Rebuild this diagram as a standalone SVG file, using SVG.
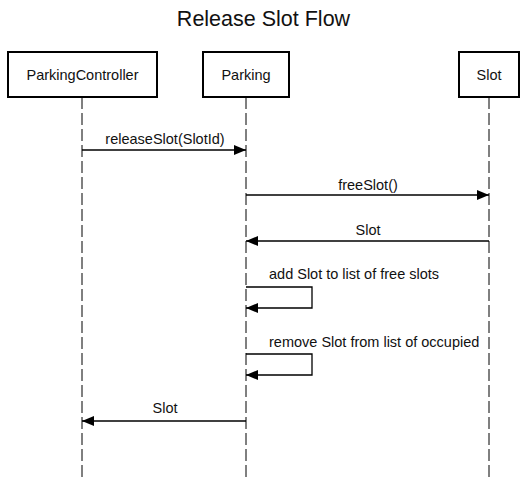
<svg xmlns="http://www.w3.org/2000/svg" width="527" height="478" viewBox="0 0 527 478">
<style>
text{font-family:"Liberation Sans",Arial,sans-serif;fill:#111;text-anchor:middle}
.t{font-size:21.5px}
.l{font-size:14.5px}
.s{text-anchor:start}
.box{fill:#fff;stroke:#000;stroke-width:2}
.life{stroke:#000;stroke-width:1;stroke-dasharray:12 4;fill:none}
.msg{stroke:#000;stroke-width:1.3;fill:none}
</style>
<defs>
<marker id="ah" markerWidth="12" markerHeight="10" refX="12" refY="5" orient="auto" markerUnits="userSpaceOnUse">
<path d="M0,0 L12,5 L0,10 Z" fill="#000"/>
</marker>
</defs>
<rect width="527" height="478" fill="#fff"/>
<text class="t" x="263.5" y="26">Release Slot Flow</text>
<g id="lifelines">
<line class="life" x1="82" y1="97" x2="82" y2="478"/>
<line class="life" x1="246" y1="97" x2="246" y2="478"/>
<line class="life" x1="489" y1="97" x2="489" y2="478"/>
</g>
<g id="ParkingController">
<rect class="box" x="8" y="52" width="149" height="45"/>
<text class="l" x="82.5" y="80">ParkingController</text>
</g>
<g id="Parking">
<rect class="box" x="203" y="52" width="86" height="45"/>
<text class="l" x="246" y="80">Parking</text>
</g>
<g id="Slot">
<rect class="box" x="459" y="52" width="60" height="45"/>
<text class="l" x="489" y="80">Slot</text>
</g>
<g id="connectors">
<line class="msg" x1="82" y1="150" x2="246" y2="150" marker-end="url(#ah)"/>
<text class="l" x="165" y="144">releaseSlot(SlotId)</text>
<line class="msg" x1="246" y1="195" x2="489" y2="195" marker-end="url(#ah)"/>
<text class="l" x="368" y="190">freeSlot()</text>
<line class="msg" x1="489" y1="241" x2="246" y2="241" marker-end="url(#ah)"/>
<text class="l" x="368" y="235">Slot</text>
<path class="msg" d="M246,287 H312 V308 H246" marker-end="url(#ah)"/>
<text class="l s" x="269" y="279">add Slot to list of free slots</text>
<path class="msg" d="M246,354 H312 V375 H246" marker-end="url(#ah)"/>
<text class="l s" x="269" y="347">remove Slot from list of occupied</text>
<line class="msg" x1="246" y1="421" x2="82" y2="421" marker-end="url(#ah)"/>
<text class="l" x="165" y="413">Slot</text>
</g>
</svg>
